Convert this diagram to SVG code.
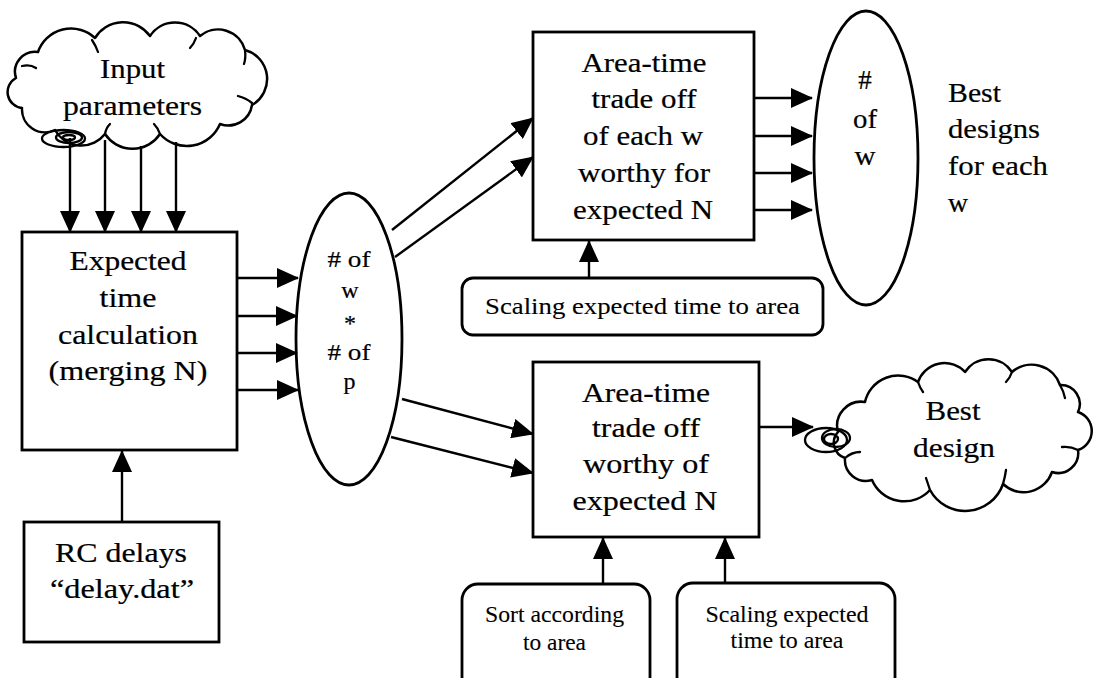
<svg xmlns="http://www.w3.org/2000/svg" width="1096" height="678" viewBox="0 0 1096 678">
  <style>
    .box { fill: #fff; stroke: #000; stroke-width: 2.8; }
    .cloud { fill: #fff; stroke: #000; stroke-width: 2.5; stroke-linejoin: round; }
    .tuck { fill: none; stroke: #000; stroke-width: 2.3; stroke-linecap: round; }
    .curl { fill: none; stroke: #000; stroke-width: 2.3; }
    .t { font-family: "Liberation Serif", "Times New Roman", serif; font-size: 27px; text-anchor: middle; fill: #000; stroke: #000; stroke-width: 0.2; }
    .m { font-size: 24px; }
    .s { font-size: 24px; stroke-width: 0.1; }
    .l { text-anchor: start; }
    .ln { stroke: #000; stroke-width: 2.4; fill: none; marker-end: url(#ah); }
  </style>
  <defs>
    <marker id="ah" markerUnits="userSpaceOnUse" markerWidth="22" markerHeight="20" refX="21" refY="10" orient="auto">
      <path d="M0,0 L22,10 L0,20 Z" fill="#000"/>
    </marker>
  </defs>
  <rect width="1096" height="678" fill="#fff"/>

  <!-- input cloud -->
  <g id="input-parameters">
    <path class="cloud" d="M16,78 A20,20 0 0 1 38,52 A35,35 0 0 1 95,38 A33,33 0 0 1 150,36 A30,30 0 0 1 200,36 A28,28 0 0 1 245,50 A30,30 0 0 1 252,105 A24,24 0 0 1 220,124 A36,36 0 0 1 160,134 A33,33 0 0 1 105,134 A30,30 0 0 1 55,130 A23,23 0 0 1 22,108 A16,16 0 0 1 16,78 Z"/>
    <path class="tuck" d="M22,66 Q30,64 36,68 M92,40 Q96,46 98,52 M196,38 Q194,44 190,48 M245,50 Q246,58 244,64 M252,103 Q246,98 238,96 M160,134 Q158,128 154,124 M105,134 Q106,128 110,124"/>
    <ellipse class="curl" cx="63.5" cy="138.5" rx="21.5" ry="8.5"/>
    <ellipse class="curl" cx="69" cy="137.5" rx="13" ry="5.5"/>
    <ellipse class="curl" cx="69" cy="137.5" rx="6" ry="2.5" stroke-width="3"/>
    <text class="t" x="132.5" y="78" textLength="65" lengthAdjust="spacingAndGlyphs">Input</text>
    <text class="t" x="132.5" y="115" textLength="139" lengthAdjust="spacingAndGlyphs">parameters</text>
  </g>

  <!-- expected time calculation -->
  <g id="expected-time">
    <rect class="box" x="22" y="232" width="215" height="218"/>
    <text class="t" x="128" y="270" textLength="117" lengthAdjust="spacingAndGlyphs">Expected</text>
    <text class="t" x="128" y="307" textLength="57" lengthAdjust="spacingAndGlyphs">time</text>
    <text class="t" x="128" y="344" textLength="140" lengthAdjust="spacingAndGlyphs">calculation</text>
    <text class="t" x="128" y="380" textLength="159" lengthAdjust="spacingAndGlyphs">(merging N)</text>
  </g>

  <!-- RC delays -->
  <g id="rc-delays">
    <rect class="box" x="24" y="522" width="195" height="120"/>
    <text class="t" x="121" y="562" textLength="132" lengthAdjust="spacingAndGlyphs">RC delays</text>
    <text class="t" x="122" y="598" textLength="144" lengthAdjust="spacingAndGlyphs">“delay.dat”</text>
  </g>

  <!-- w * p ellipse -->
  <g id="w-times-p">
    <ellipse class="box" cx="349" cy="339" rx="53" ry="146"/>
    <text class="t m" x="349" y="267" textLength="43" lengthAdjust="spacingAndGlyphs"># of</text>
    <text class="t m" x="350" y="298">w</text>
    <text class="t m" x="350" y="331">*</text>
    <text class="t m" x="349" y="360" textLength="43" lengthAdjust="spacingAndGlyphs"># of</text>
    <text class="t m" x="349.5" y="389">p</text>
  </g>

  <!-- area-time trade off per w -->
  <g id="tradeoff-each-w">
    <rect class="box" x="533" y="32" width="221" height="208"/>
    <text class="t" x="644" y="72" textLength="125" lengthAdjust="spacingAndGlyphs">Area-time</text>
    <text class="t" x="644" y="108" textLength="105" lengthAdjust="spacingAndGlyphs">trade off</text>
    <text class="t" x="643" y="145" textLength="120" lengthAdjust="spacingAndGlyphs">of each w</text>
    <text class="t" x="644" y="182" textLength="132" lengthAdjust="spacingAndGlyphs">worthy for</text>
    <text class="t" x="643" y="219" textLength="140" lengthAdjust="spacingAndGlyphs">expected N</text>
  </g>

  <!-- scaling (upper) -->
  <g id="scaling-upper">
    <rect class="box" x="462" y="278" width="361" height="57" rx="11"/>
    <text class="t s" x="642.5" y="314" textLength="315" lengthAdjust="spacingAndGlyphs">Scaling expected time to area</text>
  </g>

  <!-- # of w ellipse -->
  <g id="num-w">
    <ellipse class="box" cx="866" cy="158" rx="52" ry="147"/>
    <text class="t" x="865" y="89" font-size="25">#</text>
    <text class="t" x="865" y="128" textLength="24" lengthAdjust="spacingAndGlyphs">of</text>
    <text class="t" x="865" y="165" textLength="21" lengthAdjust="spacingAndGlyphs">w</text>
  </g>

  <!-- best designs label -->
  <g id="best-designs">
    <text class="t l" x="948" y="102" textLength="53" lengthAdjust="spacingAndGlyphs">Best</text>
    <text class="t l" x="948" y="138" textLength="92" lengthAdjust="spacingAndGlyphs">designs</text>
    <text class="t l" x="948" y="175" textLength="100" lengthAdjust="spacingAndGlyphs">for each</text>
    <text class="t l" x="948" y="212" textLength="20" lengthAdjust="spacingAndGlyphs">w</text>
  </g>

  <!-- area-time trade off overall -->
  <g id="tradeoff-overall">
    <rect class="box" x="533" y="362" width="226" height="175"/>
    <text class="t" x="646" y="402" textLength="128" lengthAdjust="spacingAndGlyphs">Area-time</text>
    <text class="t" x="646" y="437" textLength="108" lengthAdjust="spacingAndGlyphs">trade off</text>
    <text class="t" x="646" y="473" textLength="126" lengthAdjust="spacingAndGlyphs">worthy of</text>
    <text class="t" x="645" y="510" textLength="145" lengthAdjust="spacingAndGlyphs">expected N</text>
  </g>

  <!-- best design cloud -->
  <g id="best-design">
    <path class="cloud" d="M838,432 A24,24 0 0 1 865,402 A34,34 0 0 1 918,382 A28,28 0 0 1 965,372 A28,28 0 0 1 1012,372 A30,30 0 0 1 1060,385 A19,19 0 0 1 1078,412 A20,20 0 0 1 1078,450 A20,20 0 0 1 1052,472 A30,30 0 0 1 1003,484 A40,40 0 0 1 930,490 A35,35 0 0 1 872,480 A21,21 0 0 1 845,458 A16,16 0 0 1 838,432 Z"/>
    <path class="tuck" d="M918,382 Q920,388 923,392 M1012,372 Q1010,378 1006,382 M1060,385 Q1064,392 1065,398 M1078,450 Q1070,446 1062,447 M1003,484 Q1005,477 1006,470 M930,490 Q928,484 926,478 M845,458 Q852,452 860,452"/>
    <ellipse class="curl" cx="826" cy="440" rx="21" ry="12"/>
    <ellipse class="curl" cx="836" cy="438" rx="14" ry="9"/>
    <ellipse class="curl" cx="831" cy="439" rx="7" ry="5" stroke-width="3"/>
    <text class="t" x="953" y="420" textLength="55" lengthAdjust="spacingAndGlyphs">Best</text>
    <text class="t" x="954" y="457" textLength="82" lengthAdjust="spacingAndGlyphs">design</text>
  </g>

  <!-- sort by area -->
  <g id="sort-area">
    <rect class="box" x="462" y="584" width="188" height="120" rx="16"/>
    <text class="t s" x="554.5" y="622" textLength="139" lengthAdjust="spacingAndGlyphs">Sort according</text>
    <text class="t s" x="554.5" y="650" textLength="63" lengthAdjust="spacingAndGlyphs">to area</text>
  </g>

  <!-- scaling (lower) -->
  <g id="scaling-lower">
    <rect class="box" x="677" y="583" width="218" height="120" rx="16"/>
    <text class="t s" x="787" y="622" textLength="163" lengthAdjust="spacingAndGlyphs">Scaling expected</text>
    <text class="t s" x="787" y="648" textLength="113" lengthAdjust="spacingAndGlyphs">time to area</text>
  </g>

  <!-- connectors -->
  <g id="connectors">
    <line class="ln" x1="70" y1="138" x2="70" y2="232"/>
    <line class="ln" x1="105" y1="140" x2="105" y2="232"/>
    <line class="ln" x1="141" y1="146" x2="141" y2="232"/>
    <line class="ln" x1="176" y1="142" x2="176" y2="232"/>
    <line class="ln" x1="122" y1="522" x2="122" y2="451"/>
    <line class="ln" x1="237" y1="278" x2="298" y2="278"/>
    <line class="ln" x1="237" y1="316" x2="297" y2="316"/>
    <line class="ln" x1="237" y1="353" x2="297" y2="353"/>
    <line class="ln" x1="237" y1="390" x2="298" y2="390"/>
    <line class="ln" x1="392" y1="230" x2="533" y2="118"/>
    <line class="ln" x1="395" y1="257" x2="533" y2="157"/>
    <line class="ln" x1="402" y1="399" x2="533" y2="434"/>
    <line class="ln" x1="391" y1="437" x2="533" y2="473"/>
    <line class="ln" x1="589" y1="278" x2="589" y2="241"/>
    <line class="ln" x1="754" y1="98" x2="812" y2="98"/>
    <line class="ln" x1="754" y1="136" x2="812" y2="136"/>
    <line class="ln" x1="754" y1="173" x2="812" y2="173"/>
    <line class="ln" x1="754" y1="210" x2="812" y2="210"/>
    <line class="ln" x1="759" y1="427" x2="813" y2="427"/>
    <line class="ln" x1="603" y1="584" x2="603" y2="538"/>
    <line class="ln" x1="725" y1="583" x2="725" y2="538"/>
  </g>
</svg>
